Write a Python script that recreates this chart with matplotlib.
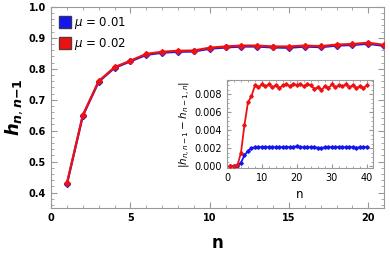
import matplotlib
matplotlib.use("Agg")
import matplotlib.pyplot as plt
from matplotlib.ticker import MultipleLocator
from matplotlib.lines import Line2D

n_main = list(range(1, 22))
h_mu001 = [0.428, 0.648, 0.758, 0.803, 0.824, 0.845, 0.852, 0.855, 0.856, 0.865,
           0.869, 0.872, 0.872, 0.869, 0.868, 0.872, 0.870, 0.875, 0.877, 0.881, 0.874]
h_mu002 = [0.430, 0.650, 0.760, 0.805, 0.826, 0.848, 0.855, 0.858, 0.859, 0.868,
           0.872, 0.875, 0.875, 0.872, 0.872, 0.875, 0.873, 0.878, 0.880, 0.884, 0.877]

n_inset = list(range(1, 41))
d_mu001 = [0.0, 0.0, 0.0, 0.0004, 0.0012, 0.0017, 0.0020, 0.0021, 0.00215, 0.0021,
           0.0021, 0.00215, 0.0021, 0.0021, 0.00215, 0.0021, 0.00215, 0.0021, 0.00215, 0.0022,
           0.00215, 0.0021, 0.00215, 0.0021, 0.0021, 0.00205, 0.0020, 0.0021, 0.0021, 0.00215,
           0.0021, 0.00215, 0.0021, 0.0021, 0.00215, 0.0021, 0.00205, 0.0021, 0.0021, 0.00215]
d_mu002 = [0.0, 0.0, 0.0001, 0.0015, 0.0046, 0.0071, 0.0078, 0.0090, 0.0088, 0.0091,
           0.0089, 0.0091, 0.0088, 0.0090, 0.0087, 0.0090, 0.0091, 0.0089, 0.0092, 0.0090,
           0.0091, 0.0089, 0.0091, 0.0090, 0.0086, 0.0088, 0.0085, 0.0089, 0.0087, 0.0091,
           0.0088, 0.0090, 0.0089, 0.0091, 0.0088, 0.0090, 0.0087, 0.0089, 0.0087, 0.0090]

legend_labels = [r"$\mu$ = 0.01", r"$\mu$ = 0.02"]
blue = "#1515ee"
red = "#ee1111"
gray = "#999999"

fig = plt.figure(figsize=(3.9, 2.56), dpi=100)
ax = fig.add_axes([0.131, 0.1875, 0.854, 0.7855])

ax.plot(n_main, h_mu001, color=blue, lw=1.6, marker='D', ms=3, zorder=2)
ax.plot(n_main, h_mu002, color=red, lw=1.6, marker='D', ms=3, zorder=3)
ax.set_xlim(0, 21)
ax.set_ylim(0.35, 1.0)
ax.xaxis.set_major_locator(MultipleLocator(5))
ax.xaxis.set_minor_locator(MultipleLocator(1))
ax.yaxis.set_major_locator(MultipleLocator(0.1))
ax.yaxis.set_minor_locator(MultipleLocator(0.02))
ax.tick_params(which='both', direction='in', color=gray, top=True, right=True)
ax.tick_params(which='major', length=4, labelsize=7)
ax.tick_params(which='minor', length=2)
for lab in ax.get_xticklabels() + ax.get_yticklabels():
    lab.set_fontweight('bold')
for s in ax.spines.values():
    s.set_color(gray)
ax.set_xlabel("n", fontsize=12, fontweight='bold', labelpad=8)
ax.set_ylabel(r"$\mathbfit{h}_{\mathbfit{n},\mathbfit{n}\mathbf{-1}}$", fontsize=13, labelpad=3)

handles = [Line2D([], [], ls='none', marker='s', ms=8, mfc=blue, mec="#333366"),
           Line2D([], [], ls='none', marker='s', ms=8, mfc=red, mec="#663333")]
ax.legend(handles, legend_labels, loc='upper left', frameon=False, fontsize=8.5,
          handletextpad=0.2, borderaxespad=0.3, labelspacing=0.4, handlelength=1.0)

ins = fig.add_axes([0.582, 0.344, 0.374, 0.3435])
ins.plot(n_inset, d_mu001, color=blue, lw=1.3, marker='D', ms=1.8, zorder=2)
ins.plot(n_inset, d_mu002, color=red, lw=1.3, marker='D', ms=1.8, zorder=3)
ins.set_xlim(0, 41.7)
ins.set_ylim(-0.0002, 0.0096)
ins.xaxis.set_major_locator(MultipleLocator(10))
ins.xaxis.set_minor_locator(MultipleLocator(2))
ins.yaxis.set_major_locator(MultipleLocator(0.002))
ins.yaxis.set_minor_locator(MultipleLocator(0.0005))
ins.yaxis.set_major_formatter(matplotlib.ticker.FormatStrFormatter('%.3f'))
ins.tick_params(which='both', direction='in', color=gray, top=True, right=True, labelsize=7)
ins.tick_params(which='major', length=3)
ins.tick_params(which='minor', length=1.5)
for s in ins.spines.values():
    s.set_color(gray)
ins.set_xlabel("n", fontsize=8.5, labelpad=4)
ins.set_ylabel(r"$|h_{n,n-1}-h_{n-1,n}|$", fontsize=7.5, labelpad=2)

fig.savefig("out.png", dpi=100)
